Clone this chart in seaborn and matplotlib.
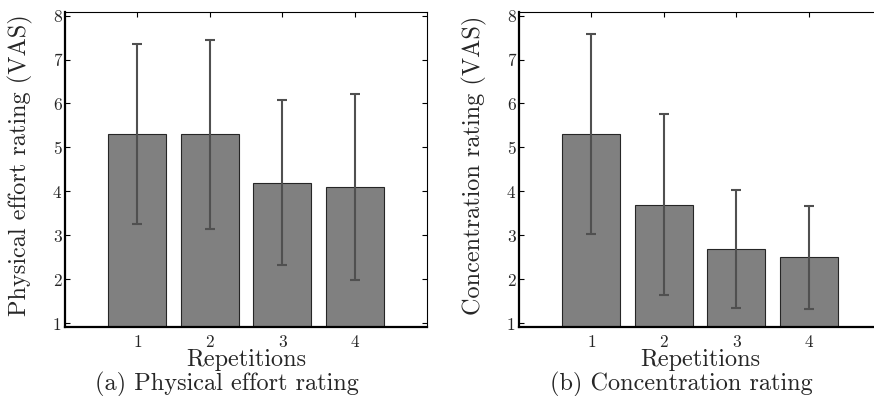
import matplotlib
matplotlib.use("Agg")
import matplotlib.pyplot as plt
import seaborn as sns
import pandas as pd
import numpy as np

# ---- data ----
repetitions = ["1", "2", "3", "4"]
physical_mean = [5.3, 5.3, 4.2, 4.1]
physical_err = [2.05, 2.15, 1.87, 2.12]
concentration_mean = [5.3, 3.7, 2.7, 2.5]
concentration_err = [2.27, 2.05, 1.34, 1.18]

ylabels = ["Physical effort rating (VAS)", "Concentration rating (VAS)"]
captions = ["(a) Physical effort rating", "(b) Concentration rating"]
xlabel = "Repetitions"
yticks = [1, 2, 3, 4, 5, 6, 7, 8]

sns.set_theme(style="ticks")
plt.rcParams["font.family"] = ["cmr10", "DejaVu Serif"]
plt.rcParams["mathtext.fontset"] = "cm"
plt.rcParams["axes.formatter.use_mathtext"] = True
plt.rcParams["axes.unicode_minus"] = False

W, H = 874, 396
AX_TOP, AX_BOT, AX_W = 12, 326.5, 362
fig = plt.figure(figsize=(W / 100, H / 100), dpi=100)

panels = [
    (65, physical_mean, physical_err, ylabels[0], captions[0], 227, 32),
    (519, concentration_mean, concentration_err, ylabels[1], captions[1], 681, 32),
]

for left_px, means, errs, ylab, cap, cap_x, ylab_off in panels:
    ax = fig.add_axes([left_px / W, 1 - AX_BOT / H, AX_W / W,
                       (AX_BOT - AX_TOP) / H])
    df = pd.DataFrame({"rep": repetitions, "val": means})
    sns.barplot(data=df, x="rep", y="val", ax=ax, color="#808080",
                saturation=1, errorbar=None, width=0.8,
                edgecolor="#262626", linewidth=0.8)
    ax.errorbar(np.arange(len(means)), means, yerr=errs, fmt="none",
                ecolor="#505050", elinewidth=1.5, capsize=3.8, capthick=1.5,
                zorder=5)
    ax.set_xlim(-1, 4)
    ax.set_ylim(0.93, 8.08)
    ax.set_yticks(yticks)
    ax.set_yticklabels([str(t) for t in yticks])
    ax.tick_params(direction="in", top=True, right=True, length=3.5,
                   width=0.8, labelsize=12.5, color="black")
    ax.tick_params(axis="x", pad=6)
    ax.tick_params(axis="y", pad=2.5)
    for s in ["top", "right"]:
        ax.spines[s].set_linewidth(0.8)
        ax.spines[s].set_color("black")
    for s in ["left", "bottom"]:
        ax.spines[s].set_linewidth(1.6)
        ax.spines[s].set_color("black")
    h_px = AX_BOT - AX_TOP
    ax.set_xlabel(xlabel, fontsize=17.5)
    ax.xaxis.set_label_coords(0.5, (AX_BOT - 349) / h_px)
    ax.xaxis.label.set_va("top")
    ax.set_ylabel(ylab, fontsize=17.5)
    ax.yaxis.set_label_coords(-ylab_off / AX_W, (AX_BOT - 165.5) / h_px)
    fig.text(cap_x / W, 1 - 372 / H, cap, fontsize=17.5, ha="center",
             va="top")

fig.savefig("out.png", dpi=100)
